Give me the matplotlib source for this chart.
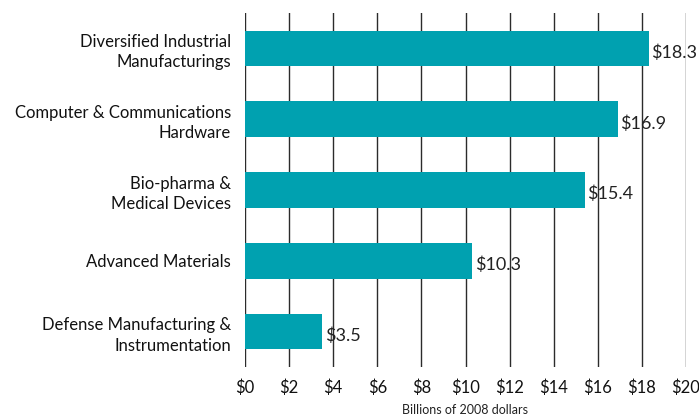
import matplotlib.pyplot as plt

# Data (top to bottom).
categories = ['Diversified Industrial\nManufacturings',
              'Computer & Communications\nHardware',
              'Bio-pharma &\nMedical Devices',
              'Advanced Materials',
              'Defense Manufacturing &\nInstrumentation']
values = [18.3, 16.9, 15.4, 10.3, 3.5]
ticks = [0, 2, 4, 6, 8, 10, 12, 14, 16, 18, 20]
tick_labels = ['$%d' % t for t in ticks]

BAR_COLOR = '#00A1B0'
GRID_COLOR = '#2b2b2b'

plt.rcParams['font.family'] = ['Lato', 'DejaVu Sans']

fig = plt.figure(figsize=(6.99, 4.15), dpi=100)
ax = fig.add_axes([245 / 699, 1 - 367 / 415, 441 / 699, 354 / 415])

pos = list(range(len(categories)))
ax.barh(pos, values, height=0.5, color=BAR_COLOR, zorder=2)

for y, v in zip(pos, values):
    ax.annotate('$%.1f' % v, xy=(v, y), xytext=(2, -3),
                textcoords='offset points', ha='left', va='center',
                fontsize=13, color='#222222', zorder=3)

ax.set_xlim(0, 20)
ax.set_ylim(len(categories) - 0.5, -0.5)
ax.set_xticks(ticks)
ax.set_xticklabels(tick_labels, fontsize=12, color='#111111')
ax.set_yticks(pos)
ax.set_yticklabels(categories, fontsize=12, color='#111111',
                   multialignment='right', linespacing=1.35)
ax.tick_params(length=0, axis='x', pad=9)
ax.tick_params(length=0, axis='y', pad=10)

ax.grid(axis='x', color=GRID_COLOR, linewidth=1.0, zorder=1)
ax.set_axisbelow(True)
for s in ax.spines.values():
    s.set_visible(False)

ax.set_xlabel('Billions of 2008 dollars', fontsize=9, labelpad=6,
              color='#222222')

fig.savefig('out.png', dpi=100)
